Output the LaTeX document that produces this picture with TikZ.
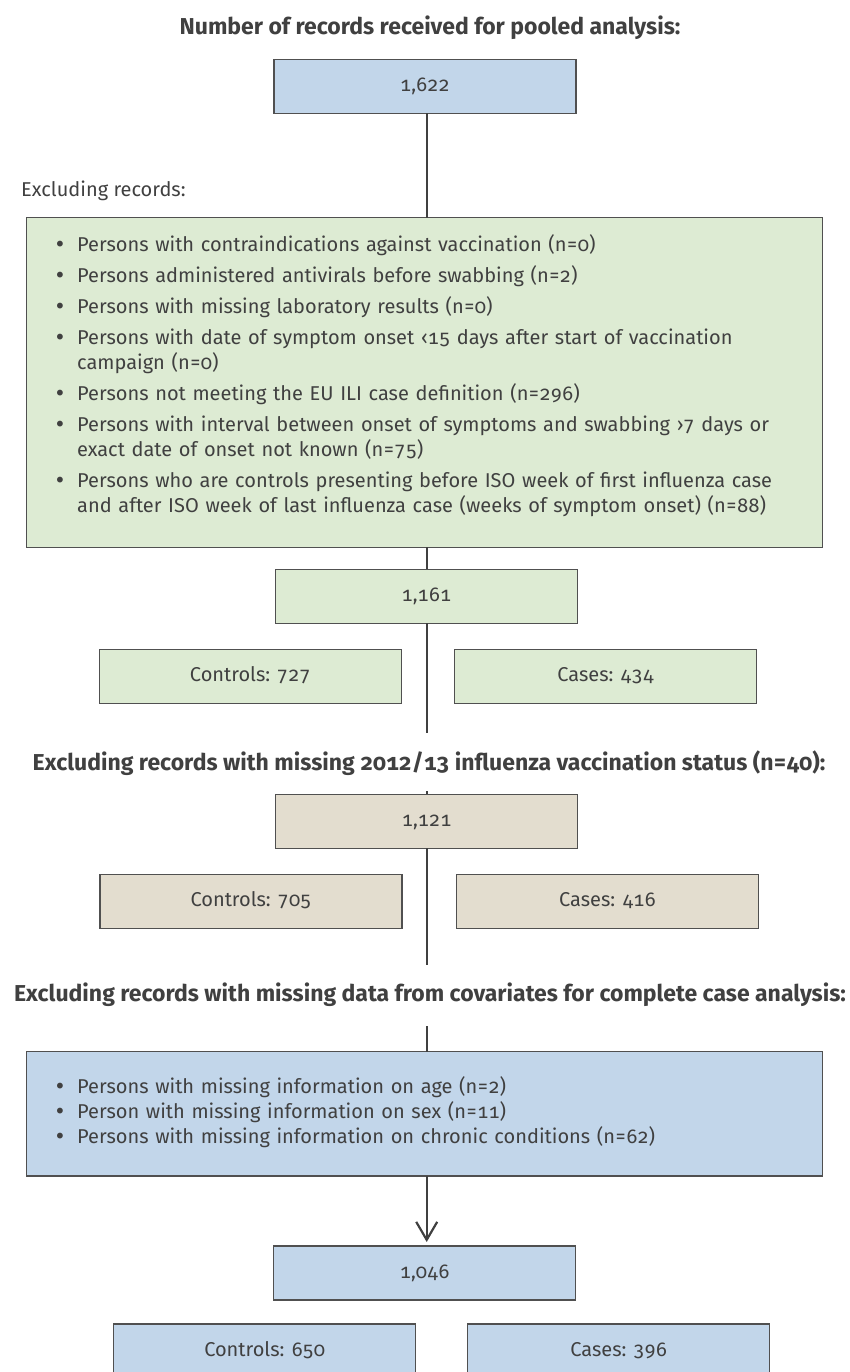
\documentclass[tikz,border=0pt]{standalone}
\usepackage{fontspec}
\setmainfont{Fira Sans}[Numbers={OldStyle,Monospaced}]
\newfontfamily\dotfont{DejaVu Sans}
\usepackage{tikz}
\usetikzlibrary{positioning,arrows.meta}
\definecolor{boxblue}{HTML}{C2D6EA}
\definecolor{boxgreen}{HTML}{DDEBD3}
\definecolor{boxbeige}{HTML}{E3DDCF}
\definecolor{inkgray}{HTML}{404040}
\definecolor{rulegray}{HTML}{505050}
\tikzstyle{edge}=[
	-,
	draw=inkgray,
	line width=2.2pt
]
\tikzstyle{tbox}=[
	draw=rulegray,
	line width=1.4pt,
	inner sep=0pt,
	outer sep=0pt,
	minimum width=302pt,
	minimum height=54pt,
	text height=13pt,
	text depth=3pt,
	text=inkgray,
	font=\fontsize{20}{25}\selectfont
]
\tikzstyle{bluebox}=[tbox, fill=boxblue]
\tikzstyle{greenbox}=[tbox, fill=boxgreen]
\tikzstyle{beigebox}=[tbox, fill=boxbeige]
\tikzstyle{wide}=[
	draw=rulegray,
	line width=1.4pt,
	inner sep=0pt,
	outer sep=0pt,
	minimum width=796pt
]
\tikzstyle{head}=[
	anchor=base,
	inner sep=0pt,
	text=inkgray,
	font=\fontsize{23}{28}\selectfont\bfseries
]
\tikzstyle{plist}=[
	anchor=base west,
	inner sep=0pt,
	text width=760pt,
	align=left,
	text=inkgray,
	font=\fontsize{20}{25}\selectfont
]
\newcommand{\pitem}[1]{\noindent\hangindent=23pt\hangafter=1\makebox[23pt][l]{\dotfont •}#1\par}

\begin{document}
\begin{tikzpicture}[x=1pt,y=-1pt]
\useasboundingbox (0,0) rectangle (850,1372);

\node[head] (t1) at (430,35) {Number of records received for pooled analysis:};
\node[bluebox] (1622) at (425,86.3) {1,622};
\node[anchor=base west, inner sep=0pt, text=inkgray, font=\fontsize{20}{25}\selectfont] (exl) at (21,196.7) {Excluding records:};
\node[wide, fill=boxgreen, minimum height=329.6pt] (ex1) at (424.7,382.5) {};
\node[plist] (l1) at (54,251.7) {\setlength{\parskip}{6pt}%
\pitem{Persons with contraindications against vaccination (n=0)}
\pitem{Persons administered antivirals before swabbing (n=2)}
\pitem{Persons with missing laboratory results (n=0)}
\pitem{Persons with date of symptom onset ‹15 days after start of vaccination\newline campaign (n=0)}
\pitem{Persons not meeting the EU ILI case definition (n=296)}
\pitem{Persons with interval between onset of symptoms and swabbing ›7 days or\newline exact date of onset not known (n=75)}
\pitem{Persons who are controls presenting before ISO week of first influenza case\newline and after ISO week of last influenza case (weeks of symptom onset) (n=88)}};

\node[greenbox] (1161) at (426.5,596.3) {1,161};
\node[greenbox] (c727) at (250.4,676.3) {Controls: 727};
\node[greenbox] (ca434) at (605.7,676.3) {Cases: 434};
\coordinate (d1) at (426.7,733);

\node[head] (t2) at (429,770) {Excluding records with missing 2012/13 influenza vaccination status (n=40):};
\coordinate (u2) at (426.7,791);
\node[beigebox] (1121) at (426.7,821.3) {1,121};
\node[beigebox] (c705) at (251,901.5) {Controls: 705};
\node[beigebox] (ca416) at (607.5,901.5) {Cases: 416};
\coordinate (d2) at (426.7,965);

\node[head] (t3) at (430,1001.7) {Excluding records with missing data from covariates for complete case analysis:};
\coordinate (u3) at (426.7,1026);
\node[wide, fill=boxblue, minimum height=124.3pt] (ex2) at (424.7,1113.9) {};
\node[plist] (l2) at (54,1093) {%
\pitem{Persons with missing information on age (n=2)}
\pitem{Person with missing information on sex (n=11)}
\pitem{Persons with missing information on chronic conditions (n=62)}};

\node[bluebox] (1046) at (424.7,1273) {1,046};
\node[bluebox] (c650) at (264.7,1351) {Controls: 650};
\node[bluebox] (ca396) at (618.7,1351) {Cases: 396};

\draw[edge] (1622.south -| d1) to (ex1.north -| d1);
\draw[edge] (ex1.south -| d1) to (1161.north -| d1);
\draw[edge] (1161.south -| d1) to (d1);
\draw[edge] (u2) to (1121.north -| u2);
\draw[edge] (1121.south -| d2) to (d2);
\draw[edge] (u3) to (ex2.north -| u3);
\draw[edge, -{Straight Barb[length=18pt,width=21pt]}, shorten >=4pt] (ex2.south -| u3) to (1046.north -| u3);

\end{tikzpicture}
\end{document}
